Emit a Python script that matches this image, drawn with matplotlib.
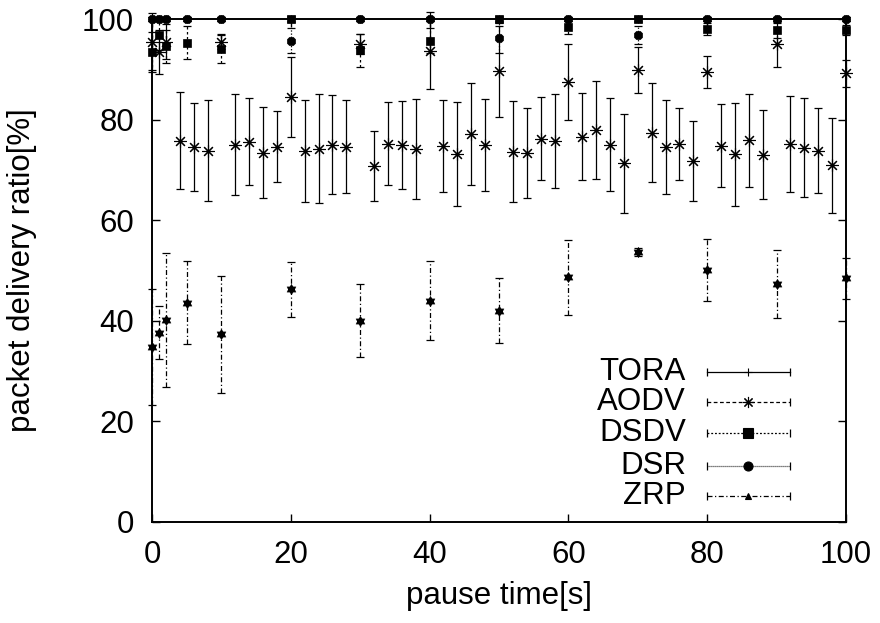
import matplotlib
matplotlib.use("Agg")
import matplotlib.pyplot as plt
from matplotlib.path import Path
from matplotlib.lines import Line2D

# ---------------- data ----------------
x_main = [0, 1, 2, 5, 10, 20, 30, 40, 50, 60, 70, 80, 90, 100]
tora = [100, 100, 100, 100, 100, 100, 100, 100, 100, 100, 100, 100, 100, 100]
tora_err = [0.3] * 14
dsdv = [93.5, 96.8, 94.6, 95.3, 94.0, 100, 93.8, 95.7, 100, 98.5, 100, 98.1, 97.8, 97.9]
dsdv_err = [4.0, 3.0, 3.3, 3.3, 2.8, 0.5, 3.3, 2.5, 0.5, 1.5, 0.5, 1.2, 1.5, 1.0]
dsr = [100, 100, 100, 100, 100, 95.7, 100, 100, 96.2, 100, 96.8, 100, 100, 100]
dsr_err = [0.3, 0.3, 0.3, 0.3, 0.3, 2.5, 0.3, 0.3, 3.0, 0.3, 1.8, 0.3, 0.3, 0.3]
zrp = [34.7, 37.6, 40.2, 43.6, 37.3, 46.2, 40.0, 44.0, 42.0, 48.6, 53.6, 50.1, 47.3, 48.4]
zrp_err = [11.5, 5.25, 13.35, 8.2, 11.65, 5.55, 7.3, 7.9, 6.4, 7.45, 0.8, 6.2, 6.7, 4.0]

aodv_x = [0, 1, 2, 4, 6, 8, 10, 12, 14, 16, 18, 20, 22, 24, 26, 28, 30, 32, 34, 36, 38,
          40, 42, 44, 46, 48, 50, 52, 54, 56, 58, 60, 62, 64, 66, 68, 70, 72, 74, 76,
          78, 80, 82, 84, 86, 88, 90, 92, 94, 96, 98, 100]
aodv = [95.5, 93.5, 95.5, 75.8, 74.5, 73.8, 95.5, 75.0, 75.6, 73.4, 74.6, 84.5, 73.7,
        74.2, 75.0, 74.6, 95.0, 70.8, 75.2, 74.9, 74.1, 93.7, 74.7, 73.1, 77.1, 74.9,
        89.6, 73.6, 73.4, 76.2, 75.7, 87.5, 76.6, 77.9, 75.0, 71.3, 89.9, 77.4, 74.5,
        75.1, 71.7, 89.5, 74.8, 73.1, 75.9, 73.0, 95.0, 75.1, 74.4, 73.8, 70.9, 89.2]
aodv_err = [5.6, 4.4, 3.5, 9.65, 8.8, 10.1, 1.5, 10.1, 8.65, 9.1, 7.0, 7.9, 10.2,
            10.8, 9.8, 9.3, 2.0, 7.0, 8.3, 8.8, 9.95, 7.6, 9.1, 10.3, 10.2, 9.2,
            9.0, 10.1, 8.95, 8.3, 9.4, 7.5, 8.7, 9.75, 9.25, 9.8, 4.6, 9.9, 9.35,
            7.1, 8.0, 3.2, 8.3, 10.2, 9.25, 8.8, 4.5, 9.6, 9.8, 8.4, 9.4, 2.7]

series_names = ["TORA", "AODV", "DSDV", "DSR", "ZRP"]
x_ticks = [0, 20, 40, 60, 80, 100]
y_ticks = [0, 20, 40, 60, 80, 100]

# ---------------- style ----------------
plt.rcParams["font.family"] = ["Liberation Sans", "DejaVu Sans"]
FS = 22.5

fig = plt.figure(figsize=(8.8, 6.23), dpi=100)
ax = fig.add_axes([152 / 880, 1 - 521.7 / 623, 694 / 880, 502.7 / 623])

# hexagram marker for ZRP points
hexa = Path([(0, 1), (-0.866, -0.5), (0.866, -0.5), (0, 1),
             (0, -1), (0.866, 0.5), (-0.866, 0.5), (0, -1)],
            [Path.MOVETO, Path.LINETO, Path.LINETO, Path.CLOSEPOLY,
             Path.MOVETO, Path.LINETO, Path.LINETO, Path.CLOSEPOLY])
asterisk = (8, 2, 0)

styles = {
    "TORA": dict(marker="+", ms=6, mew=0.8, ls_bar="-", mfc="black"),
    "AODV": dict(marker=asterisk, ms=9, mew=0.8, ls_bar="-", mfc="black"),
    "DSDV": dict(marker="s", ms=5.8, mew=0.5, ls_bar=(0, (2.0, 2.0)), mfc="black"),
    "DSR": dict(marker="8", ms=6.2, mew=0.5, ls_bar=(0, (1.0, 1.5)), mfc="black"),
    "ZRP": dict(marker=hexa, ms=7.5, mew=0.3, ls_bar=(0, (4.0, 2.0, 1.0, 2.0)), mfc="black"),
}

data = {
    "TORA": (x_main, tora, tora_err),
    "AODV": (aodv_x, aodv, aodv_err),
    "DSDV": (x_main, dsdv, dsdv_err),
    "DSR": (x_main, dsr, dsr_err),
    "ZRP": (x_main, zrp, zrp_err),
}

for name in series_names:
    xs, ys, es = data[name]
    st = styles[name]
    line, caps, bars = ax.errorbar(xs, ys, yerr=es, fmt="none", ecolor="black",
                                   elinewidth=0.9, capsize=3.2, capthick=0.9,
                                   clip_on=False, zorder=3)
    for b in bars:
        b.set_linestyle(st["ls_bar"])
        b.set_clip_on(False)
    for c in caps:
        c.set_clip_on(False)
    ax.plot(xs, ys, ls="none", marker=st["marker"], ms=st["ms"], mew=st["mew"],
            mfc=st["mfc"], mec="black", color="black", clip_on=False, zorder=4)

ax.set_xlim(0, 100)
ax.set_ylim(0, 100)
ax.set_xticks(x_ticks)
ax.set_yticks(y_ticks)
ax.tick_params(direction="in", length=5.8, width=1.0, labelsize=FS, pad=13,
               top=True, right=True)
for s in ax.spines.values():
    s.set_linewidth(1.4)

ax.set_xlabel("pause time[s]", fontsize=FS)
ax.set_ylabel("packet delivery ratio[%]", fontsize=FS)
ax.xaxis.set_label_coords(0.5, -0.118)
ax.yaxis.set_label_coords(-0.165, 0.5)

# ---------------- legend (gnuplot-style key) ----------------
key_y = [0.2984, 0.2375, 0.1758, 0.1114, 0.0511]
key_ls = {"TORA": "-", "AODV": (0, (3.0, 2.0)), "DSDV": (0, (1.5, 1.5)),
          "DSR": (0, (0.7, 0.9)), "ZRP": (0, (4.0, 2.0, 1.0, 2.0))}
key_marker = {"TORA": "+", "AODV": asterisk, "DSDV": "s", "DSR": "o", "ZRP": "^"}
key_ms = {"TORA": 6, "AODV": 8, "DSDV": 7, "DSR": 6.5, "ZRP": 5}
x1, x2, xc = 0.7993, 0.919, 0.859
for name, yk in zip(series_names, key_y):
    ax.text(0.7695, yk, name, transform=ax.transAxes, ha="right", va="center",
            fontsize=FS)
    ax.add_line(Line2D([x1, x2], [yk, yk], transform=ax.transAxes, color="black",
                       lw=0.9, ls=key_ls[name]))
    ax.add_line(Line2D([x1, x2], [yk, yk], transform=ax.transAxes, ls="none",
                       marker="|", ms=6, mew=0.9, color="black"))
    ax.add_line(Line2D([xc], [yk], transform=ax.transAxes, ls="none",
                       marker=key_marker[name], ms=key_ms[name], mew=0.8,
                       color="black", mfc="black"))

fig.savefig("out.png", dpi=100)
